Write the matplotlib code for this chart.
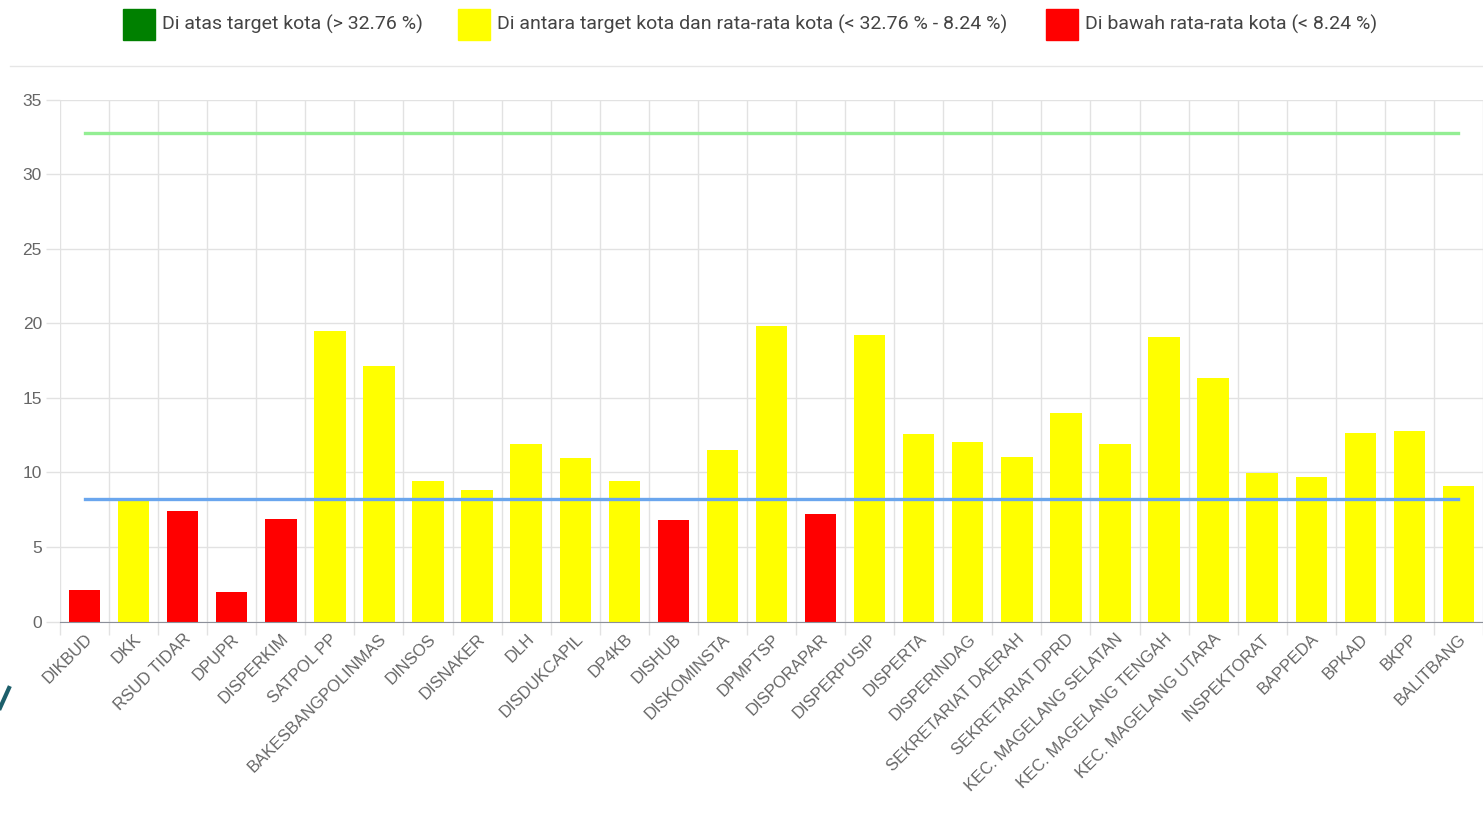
import numpy as np
import matplotlib.pyplot as plt
from matplotlib.patches import Rectangle
from matplotlib.lines import Line2D

# data
opd = ["DIKBUD", "DKK", "RSUD TIDAR", "DPUPR", "DISPERKIM", "SATPOL PP",
       "BAKESBANGPOLINMAS", "DINSOS", "DISNAKER", "DLH", "DISDUKCAPIL", "DP4KB",
       "DISHUB", "DISKOMINSTA", "DPMPTSP", "DISPORAPAR", "DISPERPUSIP", "DISPERTA",
       "DISPERINDAG", "SEKRETARIAT DAERAH", "SEKRETARIAT DPRD",
       "KEC. MAGELANG SELATAN", "KEC. MAGELANG TENGAH", "KEC. MAGELANG UTARA",
       "INSPEKTORAT", "BAPPEDA", "BPKAD", "BKPP", "BALITBANG"]
nilai = [2.1, 8.3, 7.4, 2.0, 6.9, 19.5,
         17.1, 9.4, 8.8, 11.9, 10.95, 9.4,
         6.8, 11.5, 19.8, 7.2, 19.2, 12.6,
         12.05, 11.0, 14.0,
         11.9, 19.05, 16.3,
         9.95, 9.7, 12.65, 12.75, 9.1]
target_kota = 32.76
rata_kota = 8.24

legend_labels = ["Di atas target kota (> 32.76 %)",
                 "Di antara target kota dan rata-rata kota (< 32.76 % - 8.24 %)",
                 "Di bawah rata-rata kota (< 8.24 %)"]

W, H = 1483, 819
fig = plt.figure(figsize=(W / 100, H / 100), dpi=100)

def fx(px):
    return px / W

def fy(py):
    return 1 - py / H

def warna(v):
    if v > target_kota:
        return "#008000"
    if v >= rata_kota:
        return "#ffff00"
    return "#ff0000"

ax = fig.add_axes([fx(60), fy(621.5), (1483 - 60) / W, (621.5 - 99.5) / H])
x = np.arange(len(opd))
ax.bar(x, nilai, width=0.64, color=[warna(v) for v in nilai], zorder=2)
ax.plot(x, [target_kota] * len(opd), color="#93ee93", lw=2.4, zorder=3)
ax.plot(x, [rata_kota] * len(opd), color="#6aa6ee", lw=2.4, zorder=3)

step = (1466 - 85) / 28
ax.set_xlim(-0.5, (1483 - 60) / step - 0.5)
ax.set_ylim(0, 35)

grid_c = "#e2e2e2"
ax.set_yticks(np.arange(0, 36, 5))
ax.yaxis.grid(True, color=grid_c, lw=1)
ax.set_xticks(x)
ax.set_xticks(np.arange(-0.5, len(opd), 1), minor=True)
ax.xaxis.grid(True, which="minor", color=grid_c, lw=1)
ax.set_axisbelow(True)
ax.set_xticklabels(opd, rotation=45, ha="right", rotation_mode="anchor",
                   fontsize=12, color="#666666", family="Liberation Sans")
ax.tick_params(axis="x", which="major", length=0, pad=7)
ax.tick_params(axis="x", which="minor", length=9, color=grid_c, width=1)
ax.tick_params(axis="y", length=10, color=grid_c, width=1, pad=3,
               labelsize=12.5, labelcolor="#666666")
for lab in ax.get_yticklabels():
    lab.set_family("Liberation Sans")
for s in ["top", "right", "left"]:
    ax.spines[s].set_visible(False)
ax.spines["bottom"].set_color("#8c909a")

# legend across the top
boxes = [(123, "#008000"), (458, "#ffff00"), (1046, "#ff0000")]
for (bx, c), lab in zip(boxes, legend_labels):
    fig.add_artist(Rectangle((fx(bx), fy(40)), 32 / W, 31 / H, color=c,
                             transform=fig.transFigure))
    fig.text(fx(bx + 39), fy(24), lab, fontsize=14, color="#444444",
             family="Roboto", va="center", ha="left")

fig.add_artist(Line2D([fx(10), fx(1483)], [fy(66), fy(66)], color="#e6e6e6",
                      lw=1, transform=fig.transFigure))
fig.add_artist(Line2D([fx(0), fx(9)], [fy(708), fy(688)], color="#1d5f6b",
                      lw=3, transform=fig.transFigure))

plt.savefig("out.png", dpi=100)
